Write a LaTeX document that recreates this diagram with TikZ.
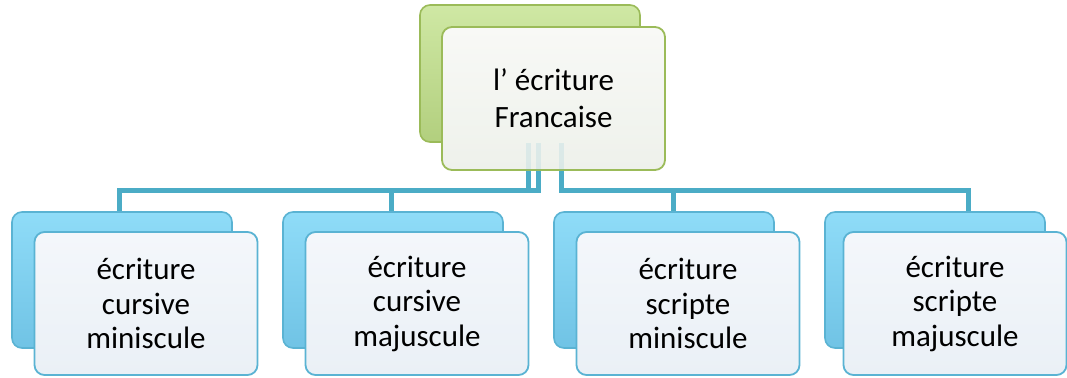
\documentclass[tikz,border=0pt]{standalone}
\usepackage{fontspec}
\setmainfont{Carlito}
\usepackage{tikz}
\usetikzlibrary{calc}

\definecolor{linkblue}{HTML}{4BACC6}
\definecolor{grnedge}{HTML}{9BBB59}
\definecolor{grntop}{HTML}{CFE8A4}
\definecolor{grnbot}{HTML}{B2CF7E}
\definecolor{blueedge}{HTML}{5AB3D3}
\definecolor{bluetop}{HTML}{8FDCF8}
\definecolor{bluebot}{HTML}{70C3E5}
\definecolor{paletop}{HTML}{F8F9F6}
\definecolor{palebot}{HTML}{EEF1EB}
\definecolor{icetop}{HTML}{F4F7FB}
\definecolor{icebot}{HTML}{EAF0F6}

\begin{document}
\begin{tikzpicture}[x=0.5pt,y=-0.5pt,
  conn/.style={draw=linkblue, line width=2.5pt},
  ghost/.style={draw=linkblue, line width=2.5pt, draw opacity=0.12},
  backbox/.style={rounded corners=5pt, line width=0.8pt, minimum width=110pt, minimum height=68pt},
  frontbox/.style={rounded corners=5pt, line width=0.9pt, minimum width=111.5pt, minimum height=71.5pt,
    align=center},
  grnback/.style={backbox, draw=grnedge, top color=grntop, bottom color=grnbot, minimum height=68.5pt},
  grnfront/.style={frontbox, draw=grnedge, top color=paletop, bottom color=palebot,
    font=\fontsize{15.5}{18.5}\selectfont},
  blueback/.style={backbox, draw=blueedge, top color=bluetop, bottom color=bluebot},
  bluefront/.style={frontbox, draw=blueedge, top color=icetop, bottom color=icebot,
    font=\fontsize{15.5}{17.25}\selectfont}]
\useasboundingbox (0,0) rectangle (1067,377);

% back boxes
\node[grnback] (fr-b) at (530,73.5) {};
\node[blueback] (c1-b) at (122,280) {};
\node[blueback] (c2-b) at (393,280) {};
\node[blueback] (c3-b) at (664,280) {};
\node[blueback] (c4-b) at (935,280) {};

% links
\draw[conn] ([xshift=-1pt]fr-b.south) -- ++(0,-24pt) -| ([xshift=-1.5pt]c1-b.north);
\draw[conn] ([xshift=4pt]fr-b.south) -- ++(0,-24pt) -| ([xshift=-1pt]c2-b.north);
\draw[conn] ([xshift=15.5pt]fr-b.south) -- ++(0,-24pt) -| ([xshift=4.5pt]c3-b.north);
\draw[conn] ([xshift=15.5pt]fr-b.south) -- ++(0,-24pt) -| ([xshift=16.5pt]c4-b.north);

% front boxes
\node[grnfront] (fr) at (553.5,98.5) {l’ écriture\\Francaise};
\node[bluefront] (c1) at (146,303.5) {écriture\\cursive\\miniscule};
\node[bluefront] (c2) at (417,303.5) {écriture\\cursive\\majuscule};
\node[bluefront] (c3) at (688,303.5) {écriture\\scripte\\miniscule};
\node[bluefront] (c4) at (955,303.5) {écriture\\scripte\\majuscule};

% links seen faintly through the top box
\draw[ghost] ([xshift=-1pt]fr-b.south) -- ([xshift=-1pt]fr-b.south |- fr.south);
\draw[ghost] ([xshift=4pt]fr-b.south) -- ([xshift=4pt]fr-b.south |- fr.south);
\draw[ghost] ([xshift=15.5pt]fr-b.south) -- ([xshift=15.5pt]fr-b.south |- fr.south);
\end{tikzpicture}
\end{document}
